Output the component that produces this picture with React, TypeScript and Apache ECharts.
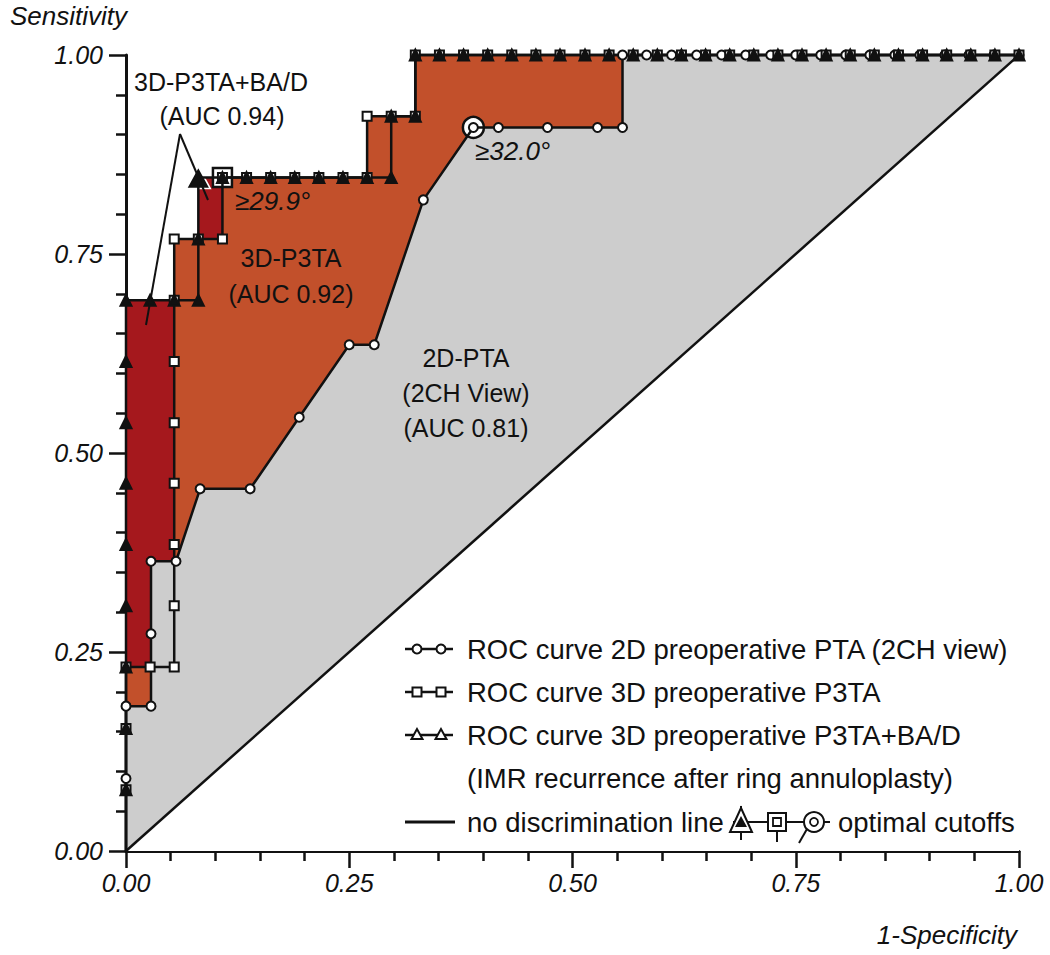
import React, { useEffect, useRef } from "react";
import * as echarts from "echarts";

// ---------- DATA ----------
const axisTickValues = [0, 0.25, 0.5, 0.75, 1];

// ROC curve 2D preoperative PTA (2CH view)  [1-specificity, sensitivity]
const roc2D: number[][] = [
  [0, 0], [0, 0.091], [0, 0.182], [0.028, 0.182], [0.028, 0.273], [0.028, 0.364],
  [0.056, 0.364], [0.083, 0.455], [0.139, 0.455], [0.194, 0.545], [0.25, 0.636],
  [0.278, 0.636], [0.333, 0.818], [0.389, 0.909], [0.417, 0.909], [0.472, 0.909],
  [0.528, 0.909], [0.556, 0.909], [0.556, 1], [0.583, 1], [0.611, 1], [0.639, 1],
  [0.667, 1], [0.694, 1], [0.722, 1], [0.75, 1], [0.778, 1], [0.806, 1], [0.833, 1],
  [0.861, 1], [0.889, 1], [0.917, 1], [0.944, 1], [0.972, 1], [1, 1],
];

// ROC curve 3D preoperative P3TA
const roc3D: number[][] = [
  [0, 0], [0, 0.077], [0, 0.154], [0, 0.231], [0.027, 0.231], [0.054, 0.231],
  [0.054, 0.308], [0.054, 0.385], [0.054, 0.462], [0.054, 0.538], [0.054, 0.615],
  [0.054, 0.692], [0.054, 0.769], [0.081, 0.769], [0.108, 0.769], [0.108, 0.846],
  [0.135, 0.846], [0.162, 0.846], [0.189, 0.846], [0.216, 0.846], [0.243, 0.846],
  [0.27, 0.846], [0.27, 0.923], [0.297, 0.923], [0.324, 0.923], [0.324, 1],
  [0.351, 1], [0.378, 1], [0.405, 1], [0.432, 1], [0.459, 1], [0.486, 1], [0.514, 1],
  [0.541, 1], [0.568, 1], [0.595, 1], [0.622, 1], [0.649, 1], [0.676, 1], [0.703, 1],
  [0.73, 1], [0.757, 1], [0.784, 1], [0.811, 1], [0.838, 1], [0.865, 1], [0.892, 1],
  [0.919, 1], [0.946, 1], [0.973, 1], [1, 1],
];

// ROC curve 3D preoperative P3TA+BA/D
const roc3DBA: number[][] = [
  [0, 0], [0, 0.077], [0, 0.154], [0, 0.231], [0, 0.308], [0, 0.385], [0, 0.462],
  [0, 0.538], [0, 0.615], [0, 0.692], [0.027, 0.692], [0.054, 0.692], [0.081, 0.692],
  [0.081, 0.769], [0.081, 0.846], [0.108, 0.846], [0.135, 0.846], [0.162, 0.846],
  [0.189, 0.846], [0.216, 0.846], [0.243, 0.846], [0.27, 0.846], [0.297, 0.846],
  [0.297, 0.923], [0.324, 0.923], [0.324, 1],
  [0.351, 1], [0.378, 1], [0.405, 1], [0.432, 1], [0.459, 1], [0.486, 1], [0.514, 1],
  [0.541, 1], [0.568, 1], [0.595, 1], [0.622, 1], [0.649, 1], [0.676, 1], [0.703, 1],
  [0.73, 1], [0.757, 1], [0.784, 1], [0.811, 1], [0.838, 1], [0.865, 1], [0.892, 1],
  [0.919, 1], [0.946, 1], [0.973, 1], [1, 1],
];

const noDiscrimination: number[][] = [[0, 0], [1, 1]];

const optimal2D: number[][] = [[0.389, 0.909]];
const optimal3D: number[][] = [[0.108, 0.846]];
const optimal3DBA: number[][] = [[0.081, 0.846]];

const legendLabels = [
  "ROC curve 2D preoperative PTA (2CH view)",
  "ROC curve 3D preoperative P3TA",
  "ROC curve 3D preoperative P3TA+BA/D",
  "(IMR recurrence after ring annuloplasty)",
  "no discrimination line",
  "optimal cutoffs",
];

const annotationTexts = {
  ba: ["3D-P3TA+BA/D", "(AUC 0.94)"],
  p3ta: ["3D-P3TA", "(AUC 0.92)"],
  pta: ["2D-PTA", "(2CH View)", "(AUC 0.81)"],
  cut3D: "\u226529.9\u00b0",
  cut2D: "\u226532.0\u00b0",
};

// ---------- STYLE ----------
const FONT = '"Liberation Sans", Arial, Helvetica, sans-serif';
const RED = "#a5181d";
const ORANGE = "#c2502b";
const GRAY = "#cdcdcd";
const INK = "#111111";

function withFirstHidden(d: number[][]) {
  return d.map((p, i) => (i === 0 ? { value: p, symbol: "none" } : p));
}

function txt(text: string, x: number, y: number, size: number, align = "center", italic = false) {
  return {
    type: "text",
    z: 100,
    silent: true,
    style: {
      text,
      x,
      y,
      fill: INK,
      fontSize: size,
      fontFamily: FONT,
      fontStyle: italic ? "italic" : "normal",
      align,
      verticalAlign: "middle",
      textAlign: align,
      textVerticalAlign: "middle",
    },
  };
}

function ln(x1: number, y1: number, x2: number, y2: number, w = 2) {
  return {
    type: "line",
    z: 100,
    silent: true,
    shape: { x1, y1, x2, y2 },
    style: { stroke: INK, lineWidth: w },
  };
}

function buildGraphic() {
  const g: any[] = [];
  // axis names
  g.push(txt("Sensitivity", 10, 16, 26, "left", true));
  g.push(txt("1-Specificity", 1017, 935, 26, "right", true));

  // annotations
  g.push(txt(annotationTexts.ba[0], 221, 82, 25));
  g.push(txt(annotationTexts.ba[1], 222, 116, 25));
  g.push(ln(180, 134, 146, 325));
  g.push(ln(180, 134, 208, 200));
  g.push(txt(annotationTexts.cut3D, 235, 201, 26, "left", true));
  g.push(txt(annotationTexts.p3ta[0], 291, 258, 25));
  g.push(txt(annotationTexts.p3ta[1], 291, 294, 25));
  g.push(txt(annotationTexts.pta[0], 466, 358, 25));
  g.push(txt(annotationTexts.pta[1], 466, 393, 25));
  g.push(txt(annotationTexts.pta[2], 466, 428, 25));
  g.push(txt(annotationTexts.cut2D, 475, 151, 26, "left", true));

  // legend
  const rows = [649, 692, 735, 778, 822];
  const lx1 = 405, lx2 = 453, tx = 467, fs = 27.5;
  g.push(ln(lx1, rows[0], lx2, rows[0], 2.5));
  [417, 441].forEach((cx) =>
    g.push({ type: "circle", z: 101, silent: true, shape: { cx, cy: rows[0], r: 4.5 }, style: { fill: "#fff", stroke: INK, lineWidth: 2 } })
  );
  g.push(ln(lx1, rows[1], lx2, rows[1], 2.5));
  [417, 441].forEach((cx) =>
    g.push({ type: "rect", z: 101, silent: true, shape: { x: cx - 4.5, y: rows[1] - 4.5, width: 9, height: 9 }, style: { fill: "#fff", stroke: INK, lineWidth: 2 } })
  );
  g.push(ln(lx1, rows[2], lx2, rows[2], 2.5));
  [417, 441].forEach((cx) =>
    g.push({ type: "polygon", z: 101, silent: true, shape: { points: [[cx, rows[2] - 6], [cx - 5.5, rows[2] + 4], [cx + 5.5, rows[2] + 4]] }, style: { fill: "#fff", stroke: INK, lineWidth: 2 } })
  );
  g.push(txt(legendLabels[0], tx, rows[0], fs, "left"));
  g.push(txt(legendLabels[1], tx, rows[1], fs, "left"));
  g.push(txt(legendLabels[2], tx, rows[2], fs, "left"));
  g.push(txt(legendLabels[3], tx, rows[3], fs, "left"));
  g.push(ln(lx1, rows[4], 455, rows[4], 3));
  g.push(txt(legendLabels[4], tx, rows[4], fs, "left"));
  const y5 = rows[4];
  g.push(ln(733, y5, 826, y5, 2));
  g.push({ type: "polygon", z: 101, silent: true, shape: { points: [[741, y5 - 14], [730, y5 + 10], [752, y5 + 10]] }, style: { fill: "#fff", stroke: INK, lineWidth: 2 } });
  g.push({ type: "polygon", z: 102, silent: true, shape: { points: [[741, y5 - 6], [735, y5 + 5], [747, y5 + 5]] }, style: { fill: INK } });
  g.push(ln(741, y5 - 16, 741, y5 + 18, 2));
  g.push({ type: "rect", z: 101, silent: true, shape: { x: 768, y: y5 - 9, width: 18, height: 18 }, style: { fill: "#fff", stroke: INK, lineWidth: 2 } });
  g.push({ type: "rect", z: 102, silent: true, shape: { x: 773, y: y5 - 4, width: 8, height: 8 }, style: { fill: "#fff", stroke: INK, lineWidth: 1.8 } });
  g.push(ln(777, y5 + 9, 777, y5 + 20, 2));
  g.push({ type: "circle", z: 101, silent: true, shape: { cx: 814, cy: y5, r: 10 }, style: { fill: "#fff", stroke: INK, lineWidth: 2 } });
  g.push({ type: "circle", z: 102, silent: true, shape: { cx: 814, cy: y5, r: 4 }, style: { fill: "#fff", stroke: INK, lineWidth: 1.8 } });
  g.push(ln(807, y5 + 7, 799, y5 + 21, 2));
  g.push(ln(824, y5, 830, y5, 2));
  g.push(txt(legendLabels[5], 838, rows[4], fs, "left"));
  return g;
}

function areaSeries(data: number[][], color: string) {
  return {
    type: "line",
    data,
    symbol: "none",
    silent: true,
    z: 1,
    lineStyle: { width: 0, opacity: 0 },
    areaStyle: { color, opacity: 1 },
    clip: true,
  };
}

function rocSeries(data: number[][], symbol: string, size: any, fill: string) {
  return {
    type: "line",
    data: withFirstHidden(data),
    symbol,
    symbolSize: size,
    showAllSymbol: true,
    z: 5,
    clip: false,
    silent: true,
    lineStyle: { color: INK, width: 2.5 },
    itemStyle: { color: fill, borderColor: INK, borderWidth: 2 },
  };
}

function optimalSeries(data: number[][], symbol: string, size: any, fill: string, border: string, bw: number) {
  return {
    type: "scatter",
    data,
    symbol,
    symbolSize: size,
    z: 4,
    silent: true,
    clip: false,
    itemStyle: { color: fill, borderColor: border, borderWidth: bw, opacity: 1 },
  };
}

function axisCommon() {
  return {
    type: "value",
    min: 0,
    max: 1,
    interval: 0.25,
    splitLine: { show: false },
    axisLine: { show: true, onZero: false, lineStyle: { color: INK, width: 3 } },
    axisTick: { show: true, length: 17, inside: false, lineStyle: { color: INK, width: 2.5 } },
    minorTick: { show: true, splitNumber: 5, length: 10, lineStyle: { color: INK, width: 2.5 } },
    minorSplitLine: { show: false },
    axisLabel: {
      color: INK,
      fontSize: 25,
      fontStyle: "italic",
      fontFamily: FONT,
      formatter: (v: number) => (axisTickValues.includes(v) ? v.toFixed(2) : ""),
    },
  };
}

export default function App() {
  const ref = useRef<HTMLDivElement>(null);
  useEffect(() => {
    if (!ref.current) return;
    const chart = echarts.init(ref.current, undefined, { renderer: "svg" });
    const xa: any = axisCommon();
    xa.axisLabel.margin = 19;
    const ya: any = axisCommon();
    ya.axisLabel.margin = 23;
    chart.setOption({
      animation: false,
      backgroundColor: "#ffffff",
      grid: { left: 126, right: 31, top: 55, bottom: 104, containLabel: false },
      xAxis: xa,
      yAxis: ya,
      series: [
        areaSeries(roc3DBA, RED),
        areaSeries(roc3D, ORANGE),
        areaSeries(roc2D, GRAY),
        areaSeries(noDiscrimination, "#ffffff"),
        {
          type: "line",
          data: noDiscrimination,
          symbol: "none",
          z: 5,
          silent: true,
          lineStyle: { color: INK, width: 2.5 },
        },
        optimalSeries(optimal3DBA, "triangle", [24, 22], INK, "#ffffff", 1.5),
        optimalSeries(optimal3D, "rect", 19, "#ffffff", INK, 2.5),
        optimalSeries(optimal2D, "circle", 21, "#ffffff", INK, 2.5),
        rocSeries(roc2D, "circle", 9, "#ffffff"),
        rocSeries(roc3D, "rect", 9, "#ffffff"),
        rocSeries(roc3DBA, "triangle", 11, INK),
      ],
      graphic: buildGraphic(),
    });
    return () => chart.dispose();
  }, []);
  return (
    <div
      ref={ref}
      style={{ position: "absolute", left: 0, top: 0, width: 1050, height: 955, background: "#fff" }}
    />
  );
}
